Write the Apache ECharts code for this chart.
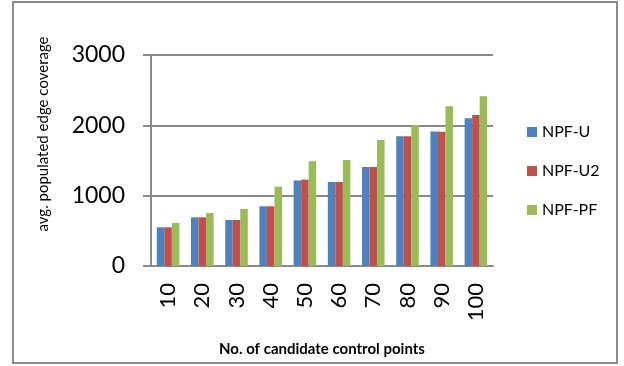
<!DOCTYPE html>
<html>
<head>
<meta charset="utf-8">
<script src="https://cdn.jsdelivr.net/npm/echarts@6/dist/echarts.min.js"></script>
<style>
  html, body { margin: 0; padding: 0; background: #ffffff; }
  #chart { width: 624px; height: 366px; }
</style>
</head>
<body>
<div id="chart"></div>
<script>
// Candidate control point counts (x categories)
const categories = ['10', '20', '30', '40', '50', '60', '70', '80', '90', '100'];

// Average populated edge coverage per method
const npfU  = [550, 692, 654, 849, 1214, 1195, 1408, 1845, 1911, 2100];
const npfU2 = [550, 692, 654, 849, 1228, 1195, 1408, 1845, 1908, 2148];
const npfPF = [611, 754, 811, 1128, 1489, 1508, 1792, 2006, 2271, 2414];

const seriesNames = ['NPF-U', 'NPF-U2', 'NPF-PF'];
const seriesColors = ['#4F81BD', '#C0504D', '#9BBB59'];
const yTicks = [0, 1000, 2000, 3000];

const FONT = 'Lato';
const GRID_COLOR = '#8a8a8a';

const chart = echarts.init(document.getElementById('chart'), null, { renderer: 'canvas' });

const values = [npfU, npfU2, npfPF];

chart.setOption({
  animation: false,
  backgroundColor: '#ffffff',
  textStyle: { fontFamily: FONT, color: '#000' },
  grid: { left: 151, right: 131, top: 55, bottom: 100, containLabel: false },
  legend: {
    orient: 'vertical',
    left: 522,
    top: 119,
    itemWidth: 10,
    itemHeight: 10,
    itemGap: 23,
    icon: 'rect',
    data: seriesNames,
    textStyle: { fontFamily: FONT, fontSize: 16, lineHeight: 16, color: '#000', padding: [0, 0, 0, 0] }
  },
  xAxis: {
    type: 'category',
    data: categories,
    name: 'No. of candidate control points',
    nameLocation: 'middle',
    nameGap: 76,
    nameTextStyle: { fontFamily: FONT, fontSize: 15, fontWeight: 'bold', color: '#000' },
    axisLine: { show: true, lineStyle: { color: GRID_COLOR, width: 2 } },
    axisTick: { show: false },
    axisLabel: { rotate: 90, fontFamily: FONT, fontSize: 22, color: '#000', margin: 17 }
  },
  yAxis: {
    type: 'value',
    min: yTicks[0],
    max: yTicks[yTicks.length - 1],
    interval: 1000,
    axisLine: { show: true, lineStyle: { color: GRID_COLOR, width: 2 } },
    axisTick: { show: true, length: 8, lineStyle: { color: GRID_COLOR, width: 2 } },
    splitLine: { show: true, lineStyle: { color: GRID_COLOR, width: 2 } },
    axisLabel: {
      fontFamily: FONT,
      fontSize: 23,
      color: '#000',
      margin: 26,
      formatter: (v) => String(v)
    }
  },
  series: seriesNames.map((name, i) => ({
    name: name,
    type: 'bar',
    data: values[i],
    barGap: '0%',
    barCategoryGap: '34%',
    itemStyle: { color: seriesColors[i] }
  })),
  graphic: [
    {
      type: 'rect',
      shape: { x: 13, y: 2, width: 604, height: 361 },
      style: { fill: 'none', stroke: '#8c8c8c', lineWidth: 2 },
      silent: true,
      z: -1
    },
    {
      type: 'text',
      x: 43,
      y: 134,
      rotation: Math.PI / 2,
      style: {
        text: 'avg. populated edge coverage',
        fontFamily: FONT,
        fontSize: 15,
        fill: '#000',
        align: 'center',
        verticalAlign: 'middle'
      }
    }
  ]
});
</script>
</body>
</html>
